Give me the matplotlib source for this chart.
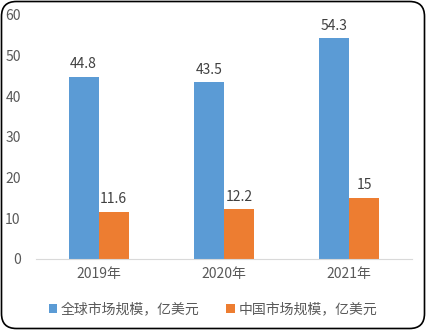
import matplotlib
matplotlib.use("Agg")
import matplotlib.pyplot as plt
from matplotlib.patches import FancyBboxPatch
import numpy as np

plt.rcParams['font.family'] = ['Noto Sans CJK SC', 'DejaVu Sans']

categories = ["2019年", "2020年", "2021年"]
global_vals = [44.8, 43.5, 54.3]
china_vals = [11.6, 12.2, 15]
global_labels = ["44.8", "43.5", "54.3"]
china_labels = ["11.6", "12.2", "15"]
series_names = ["全球市场规模，亿美元", "中国市场规模，亿美元"]
yticks = [0, 10, 20, 30, 40, 50, 60]

blue = "#5B9BD5"
orange = "#ED7D31"
tcol = "#595959"
fs = 10

fig = plt.figure(figsize=(4.26, 3.30), dpi=100)
ax = fig.add_axes([36/426, 71/330, 376/426, 244/330])

x = np.arange(len(categories))
w = 0.24
b1 = ax.bar(x - w/2, global_vals, w, color=blue, label=series_names[0])
b2 = ax.bar(x + w/2, china_vals, w, color=orange, label=series_names[1])

for rect, lab in zip(b1, global_labels):
    ax.annotate(lab, (rect.get_x() + rect.get_width()/2, rect.get_height()),
                xytext=(0, 4), textcoords="offset points", ha="center", va="bottom",
                fontsize=fs, color="#404040")
for rect, lab in zip(b2, china_labels):
    ax.annotate(lab, (rect.get_x() + rect.get_width()/2, rect.get_height()),
                xytext=(0, 4), textcoords="offset points", ha="center", va="bottom",
                fontsize=fs, color="#404040")

ax.set_xlim(-0.5, 2.5)
ax.set_ylim(0, 60)
ax.set_yticks(yticks)
ax.set_yticklabels([str(v) for v in yticks])
ax.set_xticks(x)
ax.set_xticklabels(categories)
ax.tick_params(axis='both', length=0, colors=tcol, labelsize=fs)
ax.tick_params(axis='y', pad=11)
ax.tick_params(axis='x', pad=6)
for s in ["top", "right", "left"]:
    ax.spines[s].set_visible(False)
ax.spines["bottom"].set_color("#D9D9D9")

leg = fig.legend(handles=[b1, b2], labels=series_names, loc="center",
                 bbox_to_anchor=(0.5, 1 - 309/330), ncol=2, frameon=False,
                 fontsize=fs, handlelength=0.6, handleheight=0.6,
                 handletextpad=0.3, columnspacing=1.9)
for t in leg.get_texts():
    t.set_color(tcol)

border = FancyBboxPatch((1.5/426, 1.5/330), 423/426, 327/330,
                        boxstyle="round,pad=0,rounding_size=0.035",
                        transform=fig.transFigure, fill=False,
                        edgecolor="black", linewidth=1.2, mutation_aspect=426/330)
fig.patches.append(border)

fig.savefig("out.png", dpi=100)
